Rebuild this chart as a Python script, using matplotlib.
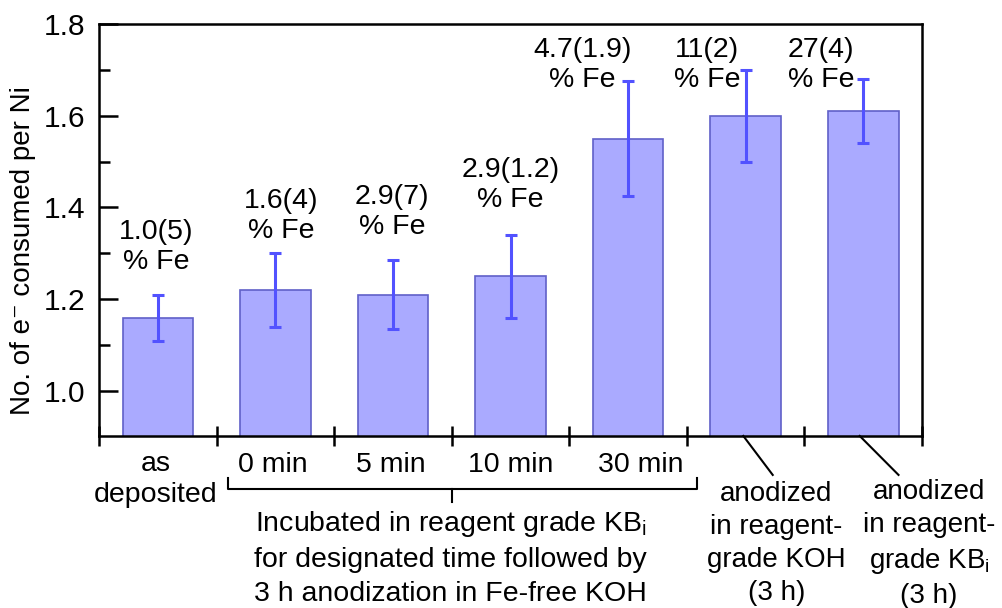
import matplotlib
matplotlib.use('Agg')
import matplotlib.pyplot as plt
import numpy as np

plt.rcParams['font.family'] = ['Liberation Sans', 'DejaVu Sans']
plt.rcParams['mathtext.fontset'] = 'custom'
plt.rcParams['mathtext.rm'] = 'Liberation Sans'
plt.rcParams['mathtext.it'] = 'Liberation Sans'

# data
means = [1.16, 1.22, 1.21, 1.25, 1.55, 1.60, 1.61]
errs = [0.05, 0.08, 0.075, 0.09, 0.125, 0.10, 0.07]
fe_labels = ['1.0(5)\n% Fe', '1.6(4)\n% Fe', '2.9(7)\n% Fe', '2.9(1.2)\n% Fe',
             '4.7(1.9)\n% Fe', '11(2)\n% Fe', '27(4)\n% Fe']
fe_x = [0.49, 1.55, 2.49, 3.50, 4.11, 5.17, 6.14]
fe_y = [1.314, 1.381, 1.39, 1.449, 1.711, 1.711, 1.711]
time_labels = ['0 min', '5 min', '10 min', '30 min']
time_x = [1.48, 2.48, 3.50, 4.61]

x = np.arange(len(means)) + 0.5

fig = plt.figure(figsize=(10.02, 6.08), dpi=100)
ax = fig.add_axes([0.0988, 0.283, 0.8214, 0.6775])

ax.bar(x, means, width=0.6, color='#aaaaff', edgecolor='#6060c8', linewidth=1.2, zorder=2)
ax.errorbar(x, means, yerr=errs, fmt='none', ecolor='#5252ff', elinewidth=2.2,
            capsize=4.3, capthick=2.2, zorder=3)

ax.set_xlim(0, 7)
ax.set_ylim(0.902, 1.8)
ax.set_yticks([1.0, 1.2, 1.4, 1.6, 1.8])
ax.set_yticks(np.arange(1.1, 1.8, 0.2), minor=True)
ax.set_yticklabels(['1.0', '1.2', '1.4', '1.6', '1.8'])
ax.set_xticks(range(8))
ax.set_xticklabels([''] * 8)
ax.tick_params(axis='y', which='major', direction='in', length=14, width=1.8,
               labelsize=21.5, pad=10)
ax.tick_params(axis='y', which='minor', direction='in', length=8, width=1.8)
ax.tick_params(axis='x', which='major', direction='inout', length=15, width=1.8)
for s in ax.spines.values():
    s.set_linewidth(1.8)

ax.set_ylabel('No. of e\u207b consumed per Ni', fontsize=20)
ax.yaxis.set_label_coords(-0.077, 0.449)

for xi, yi, t in zip(fe_x, fe_y, fe_labels):
    ax.text(xi, yi, t, ha='center', va='center', fontsize=20.5, linespacing=1.2)

# labels under the axis
ax.text(0.48, 0.806, 'as\ndeposited', ha='center', va='center', fontsize=20.5,
        linespacing=1.25, clip_on=False)
for xi, t in zip(time_x, time_labels):
    ax.text(xi, 0.839, t, ha='center', va='center', fontsize=20.5, clip_on=False)

bx = [1.10, 1.10, 5.09, 5.09]
by = [0.81, 0.786, 0.786, 0.81]
ax.plot(bx, by, color='black', lw=1.5, clip_on=False)
ax.plot([3.0, 3.0], [0.786, 0.758], color='black', lw=1.5, clip_on=False)
ax.text(2.99, 0.636, 'Incubated in reagent grade KB$_{\\mathrm{i}}$\nfor designated time followed by\n3 h anodization in Fe-free KOH',
        ha='center', va='center', fontsize=20.5, linespacing=1.38, clip_on=False)

ax.plot([5.48, 5.73], [0.902, 0.817], color='black', lw=1.5, clip_on=False)
ax.plot([6.47, 6.80], [0.902, 0.817], color='black', lw=1.5, clip_on=False)
ax.text(5.76, 0.667, 'anodized\nin reagent-\ngrade KOH\n(3 h)', ha='center', va='center',
        fontsize=20, linespacing=1.35, clip_on=False)
ax.text(7.06, 0.667, 'anodized\nin reagent-\ngrade KB$_{\\mathrm{i}}$\n(3 h)', ha='center', va='center',
        fontsize=20, linespacing=1.35, clip_on=False)

fig.savefig('out.png', dpi=100)
